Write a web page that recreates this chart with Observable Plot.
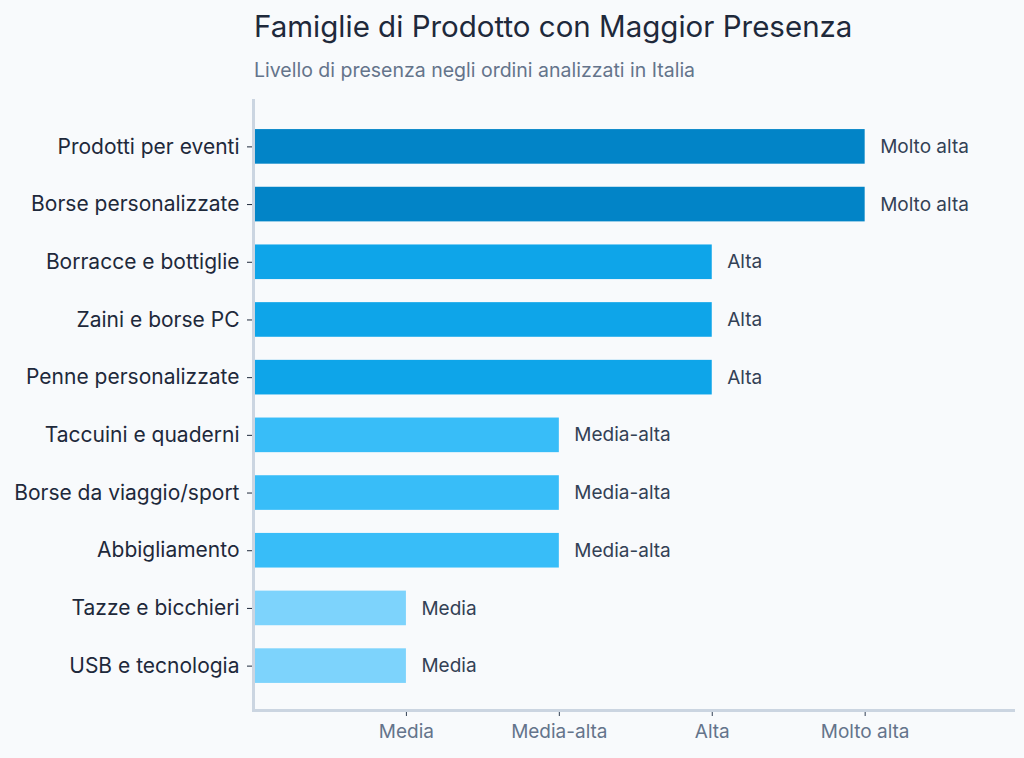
<!DOCTYPE html>
<html>
<head>
<meta charset="utf-8">
<script src="https://cdn.jsdelivr.net/npm/d3@7"></script>
<script src="https://cdn.jsdelivr.net/npm/@observablehq/plot@0.6"></script>
<style>
  html, body { margin: 0; padding: 0; background: #f8fafc; }
  body { width: 1024px; height: 758px; position: relative; overflow: hidden; font-family: Inter, "Noto Sans", sans-serif; }
  #title { position: absolute; left: 254px; top: 8px; font-size: 29.5px; line-height: 36px; color: #1e293b; font-weight: 400; white-space: nowrap; }
  #subtitle { position: absolute; left: 254px; top: 57px; font-size: 19.5px; line-height: 26px; color: #64748b; white-space: nowrap; }
  #chart { position: absolute; left: 0; top: 90px; }
</style>
</head>
<body>
<div id="title">Famiglie di Prodotto con Maggior Presenza</div>
<div id="subtitle">Livello di presenza negli ordini analizzati in Italia</div>
<div id="chart"></div>
<script>
// Product families, top to bottom
const families = [
  "Prodotti per eventi",
  "Borse personalizzate",
  "Borracce e bottiglie",
  "Zaini e borse PC",
  "Penne personalizzate",
  "Taccuini e quaderni",
  "Borse da viaggio/sport",
  "Abbigliamento",
  "Tazze e bicchieri",
  "USB e tecnologia"
];

// Presence level of each family
const presence = [
  "Molto alta", "Molto alta",
  "Alta", "Alta", "Alta",
  "Media-alta", "Media-alta", "Media-alta",
  "Media", "Media"
];

// Ordinal levels and their numeric rank on the x axis
const levelNames = ["Media", "Media-alta", "Alta", "Molto alta"];
const levelRanks = [1, 2, 3, 4];
const levelColors = ["#7dd3fc", "#38bdf8", "#0ea5e9", "#0284c7"];

const rankOf = new Map(levelNames.map((n, i) => [n, levelRanks[i]]));
const nameOf = new Map(levelRanks.map((r, i) => [r, levelNames[i]]));

const rows = families.map((f, i) => ({family: f, level: presence[i], rank: rankOf.get(presence[i])}));

const chart = Plot.plot({
  width: 1024,
  height: 668,
  marginTop: 10,
  marginBottom: 48,
  marginLeft: 253,
  marginRight: 11,
  style: {background: "transparent", fontFamily: "Inter, 'Noto Sans', sans-serif", color: "#1e293b"},
  x: {domain: [0, 4.97], label: null},
  y: {domain: families, padding: 0.4, round: false, insetTop: 6, insetBottom: 4, label: null},
  color: {domain: levelNames, range: levelColors},
  marks: [
    Plot.barX(rows, {x: "rank", y: "family", fill: "level"}),
    Plot.text(rows, {x: "rank", y: "family", text: "level", dx: 15, textAnchor: "start", fontSize: 19, fill: "#334155"}),
    Plot.axisY({tickSize: 6, tickPadding: 8, fontSize: 21, stroke: "#1e293b", fill: "#1e293b"}),
    // x ticks, with the level names written as plain text below them
    Plot.axisX({ticks: levelRanks, tickFormat: () => "", tickSize: 6, stroke: "#334155"}),
    Plot.text(levelRanks, {x: (d) => d, text: (d) => nameOf.get(d), frameAnchor: "bottom", lineAnchor: "top", dy: 14, fontSize: 19, fill: "#64748b"}),
    Plot.frame({anchor: "left", stroke: "#cbd5e1", strokeWidth: 3, strokeOpacity: 1}),
    Plot.frame({anchor: "bottom", stroke: "#cbd5e1", strokeWidth: 3, strokeOpacity: 1})
  ]
});

document.getElementById("chart").appendChild(chart);
</script>
</body>
</html>
